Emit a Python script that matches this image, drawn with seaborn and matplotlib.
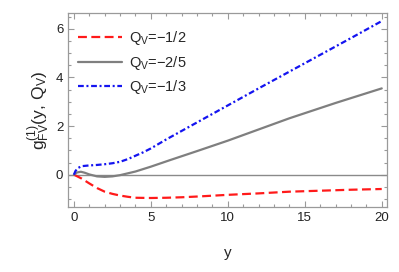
import numpy as np
import pandas as pd
import matplotlib
matplotlib.use('Agg')
import matplotlib.pyplot as plt
from matplotlib.ticker import MultipleLocator
import seaborn as sns

# values
y_half = [0, 0.25, 0.5, 1, 1.5, 2, 2.5, 3, 3.5, 4, 5, 6, 7, 8, 10, 12, 14, 16, 18, 20]
g_half = [0, -0.08, -0.16, -0.36, -0.55, -0.70, -0.79, -0.86, -0.91, -0.95, -0.96, -0.95,
          -0.93, -0.90, -0.83, -0.77, -0.70, -0.66, -0.62, -0.59]

y_twofifth = [0, 0.2, 0.45, 0.7, 1, 1.5, 2, 2.5, 3, 4, 5, 6.25, 8, 10, 12, 14, 17, 20]
g_twofifth = [0, 0.09, 0.12, 0.08, 0.01, -0.07, -0.09, -0.07, -0.02, 0.13, 0.33, 0.6,
              0.97, 1.4, 1.86, 2.32, 2.95, 3.55]

y_third = [0, 0.1, 0.25, 0.5, 1, 1.5, 2, 2.5, 3, 3.5, 4, 4.5, 5, 6, 7, 8, 10, 12, 14, 16, 18, 20]
g_third = [0, 0.15, 0.27, 0.35, 0.38, 0.40, 0.43, 0.47, 0.53, 0.64, 0.78, 0.92, 1.08, 1.45,
           1.8, 2.15, 2.85, 3.55, 4.24, 4.93, 5.62, 6.32]

labels = [r'$Q_V$=−1/2', r'$Q_V$=−2/5', r'$Q_V$=−1/3']

df = pd.concat([
    pd.DataFrame({'y': y_half, 'g': g_half, 'Q': labels[0]}),
    pd.DataFrame({'y': y_twofifth, 'g': g_twofifth, 'Q': labels[1]}),
    pd.DataFrame({'y': y_third, 'g': g_third, 'Q': labels[2]}),
])

sns.set_style('ticks')
plt.rcParams['font.family'] = ['Liberation Sans', 'DejaVu Sans']
plt.rcParams['mathtext.fontset'] = 'custom'
plt.rcParams['mathtext.rm'] = 'Liberation Sans'
plt.rcParams['mathtext.it'] = 'Liberation Sans'
plt.rcParams['mathtext.default'] = 'regular'

fig = plt.figure(figsize=(3.99, 2.72), dpi=100)
ax = fig.add_axes([0.171, 0.239, 0.8, 0.713])

ax.axhline(0, color='#8a8a8a', lw=1, zorder=1)

palette = {labels[0]: '#ff1a1a', labels[1]: '#7f7f7f', labels[2]: '#1414f0'}
dashes = {labels[0]: (4, 2), labels[1]: '', labels[2]: (2.6, 1.2, 0.9, 1.2)}
sns.lineplot(data=df, x='y', y='g', hue='Q', style='Q', palette=palette,
             dashes=dashes, sort=False, lw=1.6, ax=ax)

ax.set_xlim(-0.37, 20.37)
ax.set_ylim(-1.33, 6.65)
ax.xaxis.set_major_locator(MultipleLocator(5))
ax.xaxis.set_minor_locator(MultipleLocator(1))
ax.yaxis.set_major_locator(MultipleLocator(2))
ax.yaxis.set_minor_locator(MultipleLocator(0.5))
ax.tick_params(which='both', direction='in', top=True, right=True, color='#9a9a9a',
               labelsize=9.5, labelcolor='#222222', width=0.8)
ax.tick_params(which='major', length=4)
ax.tick_params(which='minor', length=2)
for s in ax.spines.values():
    s.set_color('#9a9a9a')
    s.set_linewidth(0.9)

ax.set_xlabel('y', fontsize=11, labelpad=16)
ax.set_ylabel(r'$g^{(1)}_{FV}(y,\,Q_V)$', fontsize=12.5, labelpad=3)

h, l = ax.get_legend_handles_labels()
ax.legend(h, l, loc='upper left', bbox_to_anchor=(0.0, 0.97), frameon=False, fontsize=10.5,
          handlelength=3.0, handletextpad=0.5, labelspacing=0.45, borderaxespad=0.3)

fig.savefig('out.png', dpi=100)
